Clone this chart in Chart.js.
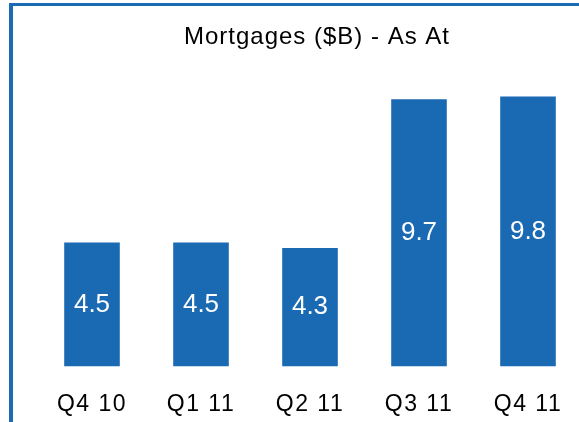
<!DOCTYPE html>
<html>
<head>
<meta charset="utf-8">
<script src="https://cdn.jsdelivr.net/npm/chart.js@4"></script>
<style>
  html, body { margin: 0; padding: 0; background: #fff; overflow: hidden; }
  #wrap { position: relative; width: 579px; height: 422px; overflow: hidden; }
  #frame {
    position: absolute; left: 9px; top: 3px; width: 700px; height: 500px;
    border-top: 3px solid #1b6cb5; border-left: 4px solid #1b6cb5;
    pointer-events: none;
  }
  #box { position: absolute; left: 0; top: 0; width: 640px; height: 446px; }
</style>
</head>
<body>
<div id="wrap">
  <div id="box"><canvas id="c"></canvas></div>
  <div id="frame"></div>
</div>
<script>
// chart data
const TITLE = 'Mortgages ($B) - As At';
const quarters = ['Q4 10', 'Q1 11', 'Q2 11', 'Q3 11', 'Q4 11'];
const mortgages = [4.5, 4.5, 4.3, 9.7, 9.8];

const BLUE = '#1a69b3';
const FONT = '"Liberation Sans", Arial, sans-serif';

// the source font runs wider than Liberation, so open the letters up a bit
const spacing = {
    id: 'spacing',
    beforeDraw(chart) {
        chart.ctx.letterSpacing = '1.5px';
    }
};

// title drawn at a fixed center, it is not centred on the plot area
const titlePlugin = {
    id: 'fixedTitle',
    afterDraw(chart) {
        const ctx = chart.ctx;
        ctx.save();
        ctx.letterSpacing = '1px';
        ctx.fillStyle = '#000';
        ctx.font = '24px ' + FONT;
        ctx.textAlign = 'center';
        ctx.textBaseline = 'middle';
        ctx.fillText(TITLE, 317, 37);
        ctx.restore();
    }
};

// value inside each bar
const valueLabels = {
    id: 'valueLabels',
    afterDatasetsDraw(chart) {
        const ctx = chart.ctx;
        const meta = chart.getDatasetMeta(0);
        ctx.save();
        ctx.letterSpacing = '0px';
        ctx.fillStyle = '#fff';
        ctx.font = '26px ' + FONT;
        ctx.textAlign = 'center';
        ctx.textBaseline = 'middle';
        meta.data.forEach((bar, i) => {
            const y = (bar.y + bar.base) / 2;
            ctx.fillText(mortgages[i].toFixed(1), bar.x, y);
        });
        ctx.restore();
    }
};

new Chart(document.getElementById('c'), {
    type: 'bar',
    data: {
        labels: quarters,
        datasets: [{
            data: mortgages,
            backgroundColor: BLUE,
            borderWidth: 0,
            barPercentage: 0.51,
            categoryPercentage: 1
        }]
    },
    options: {
        responsive: true,
        maintainAspectRatio: false,
        animation: false,
        layout: { padding: { left: 37.5, right: 57.5, top: 91, bottom: 4 } },
        plugins: {
            legend: { display: false },
            title: { display: false },
            tooltip: { enabled: false }
        },
        scales: {
            x: {
                grid: { display: false, drawTicks: false },
                border: { display: false },
                ticks: { color: '#000', font: { family: FONT, size: 23 }, padding: 24, maxRotation: 0 }
            },
            y: {
                display: false,
                min: 0,
                max: 10
            }
        }
    },
    plugins: [spacing, titlePlugin, valueLabels]
});
</script>
</body>
</html>
